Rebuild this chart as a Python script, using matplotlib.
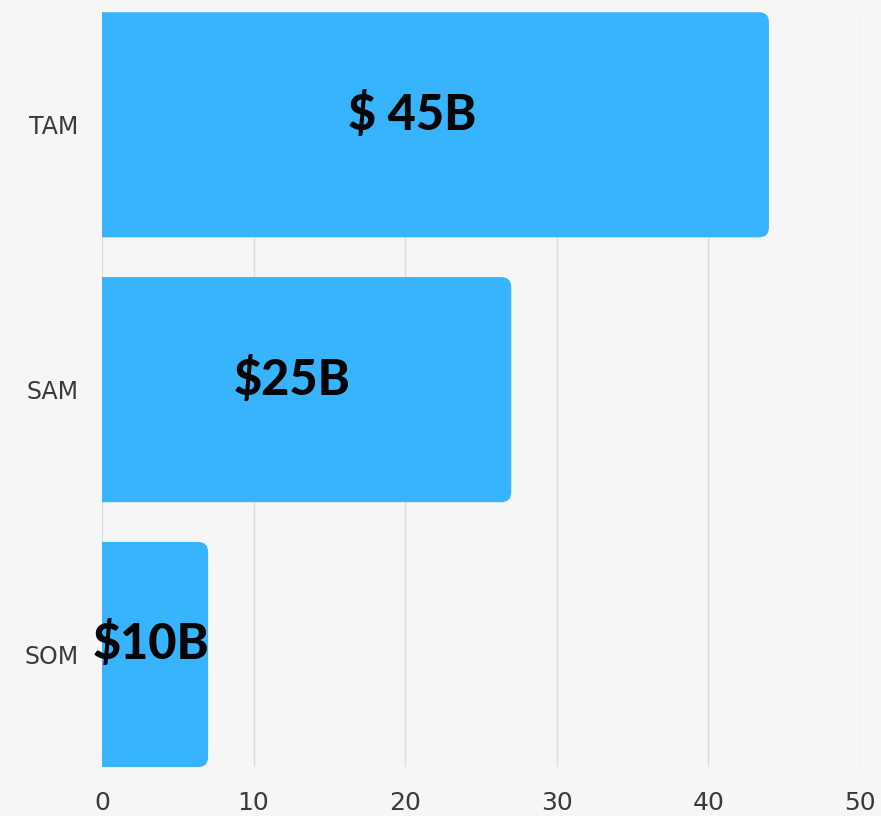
import numpy as np
import matplotlib.pyplot as plt
from matplotlib.patches import FancyBboxPatch

categories = ["TAM", "SAM", "SOM"]
values = [44, 27, 7]
labels = ["$ 45B", "$25B", "$10B"]
xticks = [0, 10, 20, 30, 40, 50]

bar_color = "#38b3fe"
bg = "#f6f6f6"

fig = plt.figure(figsize=(8.81, 8.16), dpi=100, facecolor=bg)
ax = fig.add_axes([0.1158, 0.06, 0.8602, 0.925])
ax.set_facecolor(bg)

y = np.arange(len(categories))
bars = ax.barh(y, values, height=0.85, color=bar_color)

ax.set_xlim(0, 50)
ax.set_ylim(len(categories) - 1 + 0.425, -0.425)

# rounded right corners: swap the plain bars for rounded boxes
px_x = 15.16
px_y = 265.0
for b in bars:
    b.set_visible(False)
    x0, y0 = b.get_x(), b.get_y()
    w, h = b.get_width(), b.get_height()
    r = 10 / px_x
    p = FancyBboxPatch((x0 - r, y0), w + r, h,
                       boxstyle=f"round,pad=0,rounding_size={r}",
                       mutation_aspect=px_x / px_y,
                       facecolor=bar_color, edgecolor="none", zorder=2)
    ax.add_patch(p)

for yi, v, lab in zip(y, values, labels):
    ax.text(v * 0.465, yi - 0.04, lab, ha="center", va="center",
            fontsize=35, fontweight="black", family="Lato", color="#050505", zorder=3)

ax.set_xticks(xticks)
ax.set_yticks(y)
ax.set_yticklabels(categories)
ax.grid(axis="x", color="#dcdcdc", linewidth=1, zorder=0)
ax.set_axisbelow(True)
ax.tick_params(axis="x", length=0, pad=17, labelsize=18, colors="#3a3a3a")
ax.tick_params(axis="y", length=0, pad=17, labelsize=17, colors="#3a3a3a")
for s in ax.spines.values():
    s.set_visible(False)

plt.savefig("out.png", dpi=100, facecolor=bg)
